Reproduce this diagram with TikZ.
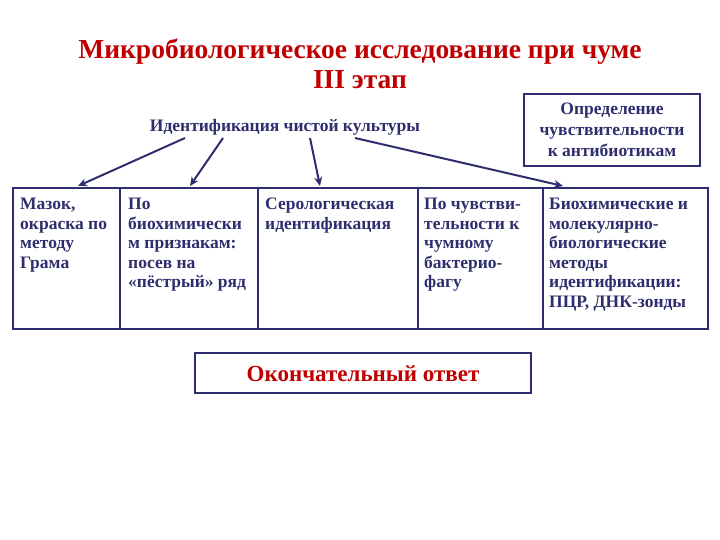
\documentclass[tikz,border=0pt]{standalone}
\usepackage{fontspec}
\usetikzlibrary{arrows.meta}
\setmainfont{Liberation Serif}
\definecolor{navy}{HTML}{2E2E6E}
\definecolor{tred}{HTML}{C00000}
\begin{document}
\begin{tikzpicture}[x=1pt,y=-1pt,
  txt/.style={font=\bfseries\fontsize{17.5}{19.5}\selectfont, text=navy, align=left, anchor=north west, inner sep=0pt},
  frame/.style={draw=navy, line width=1.6pt},
  arr/.style={draw=navy, line width=2pt, -{Stealth[length=9pt,width=8pt]}}]
\useasboundingbox (0,0) rectangle (720,540);
\node[font=\bfseries\fontsize{27.5}{30}\selectfont, text=tred, align=center] (title) at (360,64) {Микробиологическое исследование при чуме\\III этап};
\node[font=\bfseries\fontsize{17.5}{18}\selectfont, text=navy] (ident) at (285,127) {Идентификация чистой культуры};
\draw[frame] (524,94) rectangle (700,166);
\node[font=\bfseries\fontsize{17.5}{21}\selectfont, text=navy, align=center] (opr) at (612,130) {Определение\\чувствительности\\к антибиотикам};
\draw[frame] (13,188) rectangle (708,329);
\foreach \x in {120,258,418,543} \draw[frame] (\x,188) -- (\x,329);
\node[txt] (a) at (20,198) {Мазок,\\окраска по\\методу\\Грама};
\node[txt] (b) at (128,198) {По\\биохимически\\м признакам:\\посев на\\«пёстрый» ряд};
\node[txt] (c) at (265,198) {Серологическая\\идентификация};
\node[txt] (d) at (424,198) {По чувстви-\\тельности к\\чумному\\бактерио-\\фагу};
\node[txt] (e) at (549,198) {Биохимические и\\молекулярно-\\биологические\\методы\\идентификации:\\ПЦР, ДНК-зонды};
\coordinate (t1) at (78,186); \coordinate (t2) at (190,186);
\coordinate (t3) at (320,186); \coordinate (t4) at (563,186);
\draw[arr] (185,138) -- (t1);
\draw[arr] (223,138) -- (t2);
\draw[arr] (310,138) -- (t3);
\draw[arr] (355,138) -- (t4);
\draw[frame] (195,353) rectangle (531,393);
\node[font=\bfseries\fontsize{23}{26}\selectfont, text=tred] (fin) at (363,374) {Окончательный ответ};
\end{tikzpicture}
\end{document}
